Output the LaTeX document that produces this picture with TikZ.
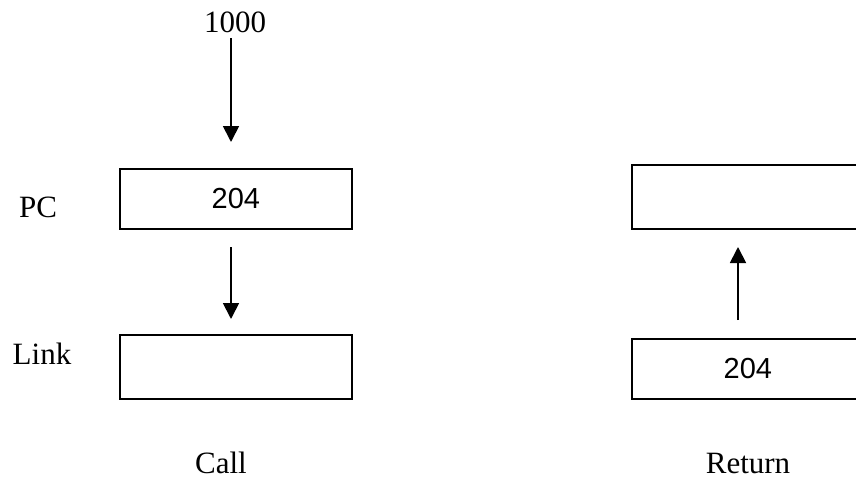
\documentclass[tikz,border=0pt]{standalone}
\usepackage{fontspec}
\setmainfont{Liberation Serif}
\newfontfamily\arialfont{Liberation Sans}
\usetikzlibrary{arrows.meta}
\begin{document}
\begin{tikzpicture}[x=1pt,y=-1pt,
  reg/.style={draw,line width=1.8pt,minimum width=232pt,inner sep=0pt,anchor=north west,font=\arialfont\fontsize{29}{31}\selectfont},
  lbl/.style={font=\fontsize{31}{33}\selectfont,anchor=base,inner sep=0pt},
  arr/.style={line width=1.8pt,-{Triangle[width=16pt,length=16pt]}}]
\useasboundingbox (0,0) rectangle (856,479);
\clip (0,0) rectangle (856,479);
% labels
\node[lbl] (n1000) at (235,32) {1000};
\node[lbl] (pclbl) at (38,217) {PC};
\node[lbl] (linklbl) at (42,364) {Link};
\node[lbl] (call) at (221,473) {Call};
\node[lbl] (ret) at (748,473) {Return};
% registers, call side
\node[reg,minimum height=60pt] (pc) at (119,168) {204};
\node[reg,minimum height=64pt] (link) at (119,334) {};
% registers, return side
\node[reg,minimum height=64pt] (pcr) at (631,164) {};
\node[reg,minimum height=60pt] (linkr) at (631,338) {204};
% arrow end points
\coordinate (a1s) at (231,38);
\coordinate (a1e) at (231,142);
\coordinate (a2s) at (231,247);
\coordinate (a2e) at (231,319);
\coordinate (a3s) at (738,320);
\coordinate (a3e) at (738,247);
\draw[arr] (a1s) -- (a1e);
\draw[arr] (a2s) -- (a2e);
\draw[arr] (a3s) -- (a3e);
\end{tikzpicture}
\end{document}
